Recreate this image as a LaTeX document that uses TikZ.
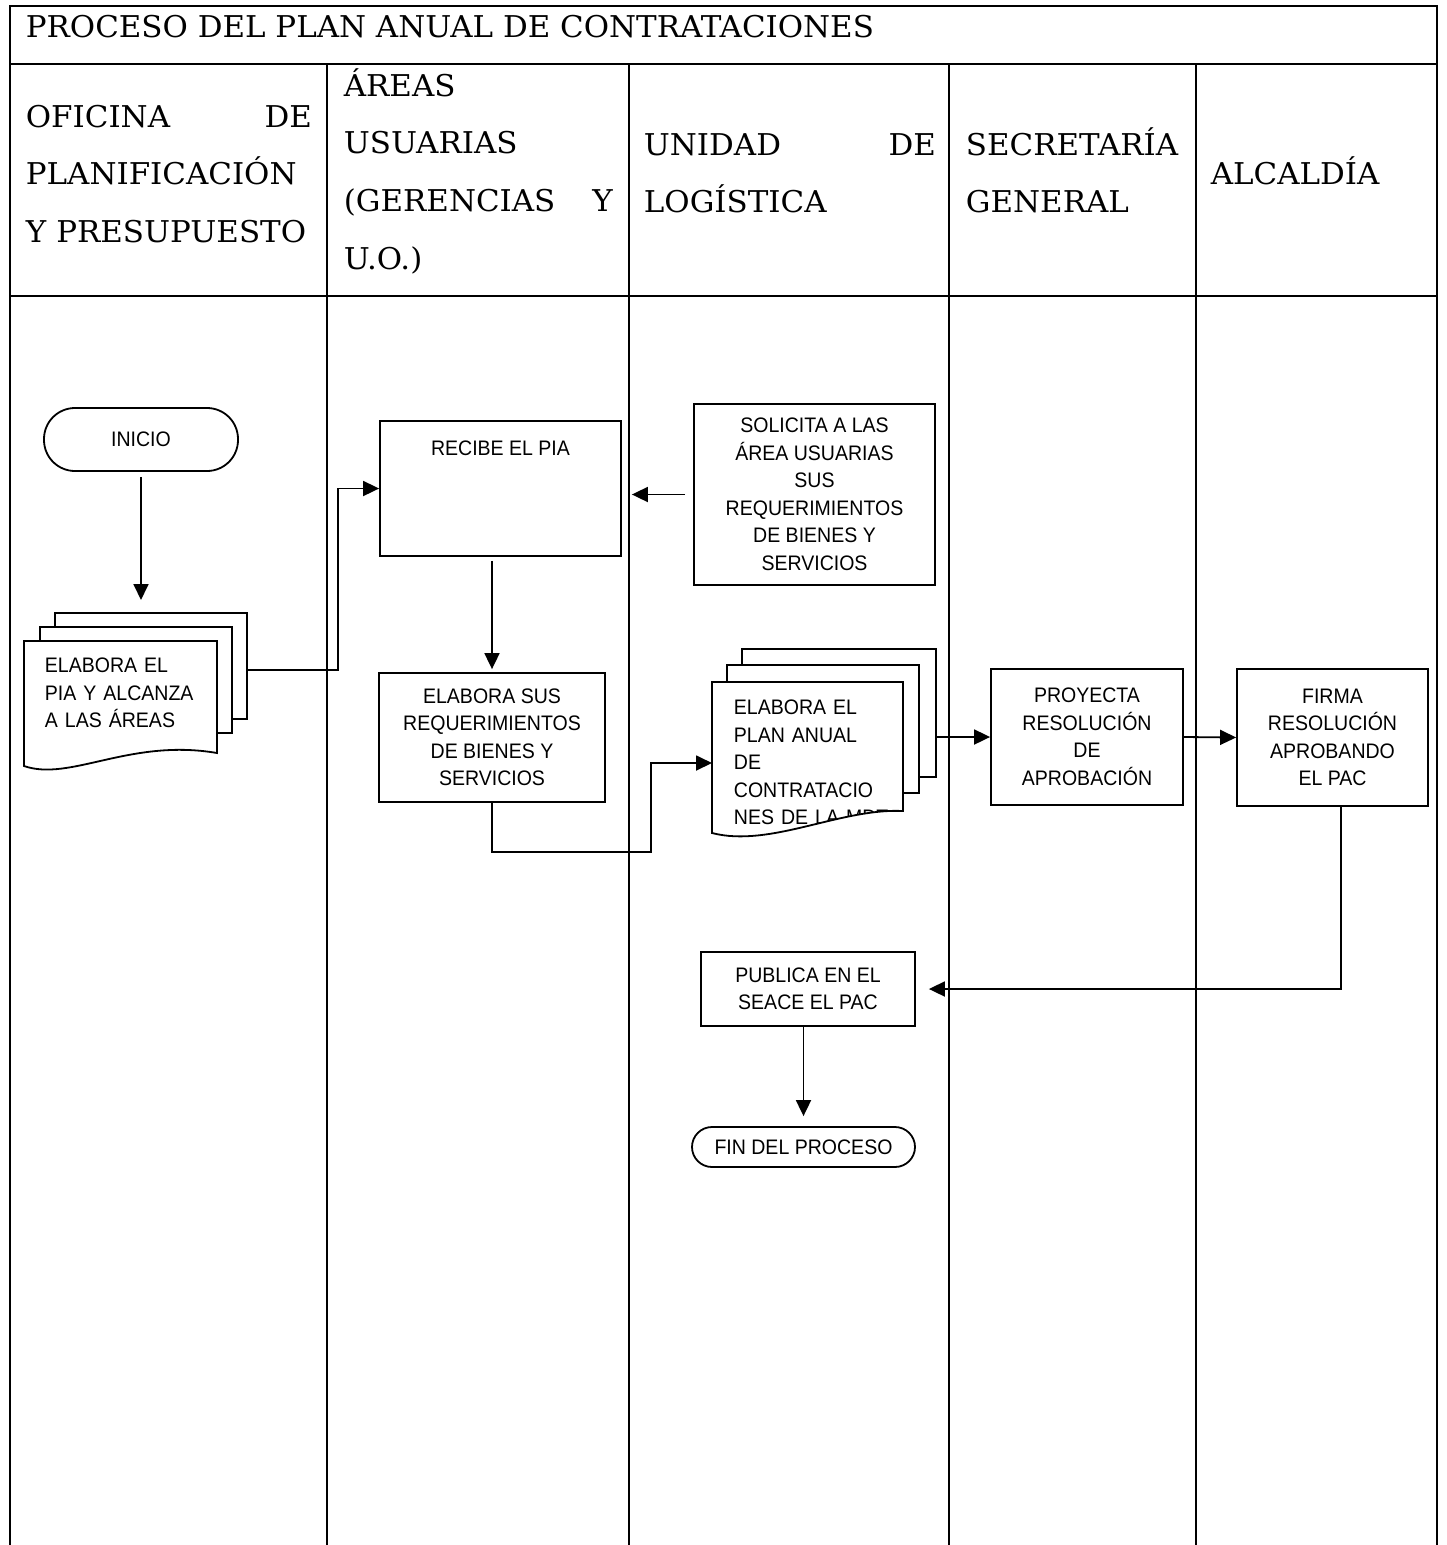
\documentclass[tikz,border=0pt]{standalone}
\usepackage{fontspec}
\setmainfont{DejaVu Serif}[FakeStretch=1.03]
\newfontfamily\boxfont[FakeStretch=0.93]{Liberation Sans}
\usetikzlibrary{arrows.meta}

\begin{document}
\begin{tikzpicture}[
    x=1pt, y=-1pt,
    >={Triangle[length=16pt,width=15pt]},
    line width=1.8pt,
    lane/.style={line width=2.6pt},
    head/.style={font=\fontsize{30}{57.7}\selectfont, inner sep=0pt, anchor=base west, align=left},
    txt/.style={font=\boxfont\fontsize{21}{27.5}\selectfont, align=center},
    proc/.style={draw, fill=white, txt, inner sep=0pt},
    page/.style={draw, fill=white}
]

\useasboundingbox (0,0) rectangle (1447,1545);

% Table
\draw[lane] (10,1545) -- (10,6) -- (1437,6) -- (1437,1545);
\draw[lane] (10,64) -- (1437,64);
\draw[lane] (10,296) -- (1437,296);
\foreach \x in {327,629,949,1196}
    \draw[lane] (\x,64) -- (\x,1545);

% Headings
\node[head] (title) at (25,37) {PROCESO DEL PLAN ANUAL DE CONTRATACIONES};
\node[head, text width=286pt] (hPlan) at (25,127) {OFICINA\hfill DE\\PLANIFICACIÓN\\Y PRESUPUESTO};
\node[head, text width=269pt] (hAreas) at (343,96) {ÁREAS\\USUARIAS\\(GERENCIAS\hfill Y\\U.O.)};
\node[head, text width=292pt] (hLog) at (643,155) {UNIDAD\hfill DE\\LOGÍSTICA};
\node[head, text width=225pt] (hSec) at (965,155) {SECRETARÍA\\GENERAL};
\node[head, text width=220pt] (hAlc) at (1210,184) {ALCALDÍA};

% Start
\node[proc, rounded corners=31pt, minimum width=194pt, minimum height=63pt] (inicio) at (141,439.5) {INICIO};

% Documents: PIA
\draw[page] (55,613) rectangle (247,719);
\draw[page] (40,627) rectangle (232,733);
\draw[page] (24,641) -- (217,641) -- (217,753) .. controls (130,738) and (70,782) .. (24,766) -- cycle;
\node[txt, text width=175pt, align=left, anchor=base west, inner sep=0pt] (piaTxt) at (44,672.5) {ELABORA EL\\PIA Y ALCANZA\\A LAS ÁREAS};
\coordinate (piaTop) at (141,613);
\coordinate (piaOut) at (247,670);

% Areas usuarias
\node[proc, minimum width=241pt, text height=15pt, text depth=82pt, inner ysep=19pt] (recibe) at (500.5,488.5) {RECIBE EL PIA};
\node[proc, minimum width=226pt, minimum height=129pt] (elaSus) at (492,737.5) {ELABORA SUS\\REQUERIMIENTOS\\DE BIENES Y\\SERVICIOS};

% Logistica
\node[proc, minimum width=241pt, minimum height=181pt] (solicita) at (814.5,494.5) {SOLICITA A LAS\\ÁREA USUARIAS\\SUS\\REQUERIMIENTOS\\DE BIENES Y\\SERVICIOS};

% Documents: PAC
\draw[page] (742,649) rectangle (936,777);
\draw[page] (727,665) rectangle (919,793);
\draw[page] (712,682) -- (903,682) -- (903,811) .. controls (840,808) and (770,848) .. (712,833) -- cycle;
\begin{scope}
    \clip (712,682) -- (903,682) -- (903,811) .. controls (840,808) and (770,848) .. (712,833) -- cycle;
    \node[txt, text width=175pt, align=left, anchor=base west, inner sep=0pt] (pacTxt) at (733,714.5) {ELABORA EL\\PLAN ANUAL\\DE\\CONTRATACIO\\NES DE LA MDT};
\end{scope}
\coordinate (pacIn) at (712,763);
\coordinate (pacOut) at (936,737);

\node[proc, minimum width=214pt, minimum height=74pt] (publica) at (808,989) {PUBLICA EN EL\\SEACE EL PAC};
\node[proc, rounded corners=20pt, minimum width=223pt, minimum height=40pt] (fin) at (803.5,1147) {FIN DEL PROCESO};

% Secretaria and Alcaldia
\node[proc, minimum width=192pt, minimum height=136pt] (proyecta) at (1087,737) {PROYECTA\\RESOLUCIÓN\\DE\\APROBACIÓN};
\node[proc, minimum width=191pt, minimum height=137pt] (firma) at (1332.5,737.5) {FIRMA\\RESOLUCIÓN\\APROBANDO\\EL PAC};

% Flow
\draw[->, shorten <=5pt, shorten >=13pt] (inicio) -- (piaTop);
\draw[->] (piaOut) -- ++(91,0) |- (recibe.west);
\draw[->, shorten <=8pt, shorten >=10pt] (solicita.west) -- (solicita.west -| recibe.east);
\draw[->, shorten <=4pt, shorten >=3pt] (recibe.south -| elaSus.north) -- (elaSus.north);
\draw[->] (elaSus.south) |- (651,852) |- (pacIn);
\draw[->] (pacOut) -- (proyecta.west);
\draw[->] (proyecta.east) -- (firma.west);
\draw[->, shorten >=13pt] ([xshift=8.5pt]firma.south) |- (publica.east);
\draw[->, shorten >=10pt] (publica.south -| fin.north) -- (fin.north);

\end{tikzpicture}
\end{document}
